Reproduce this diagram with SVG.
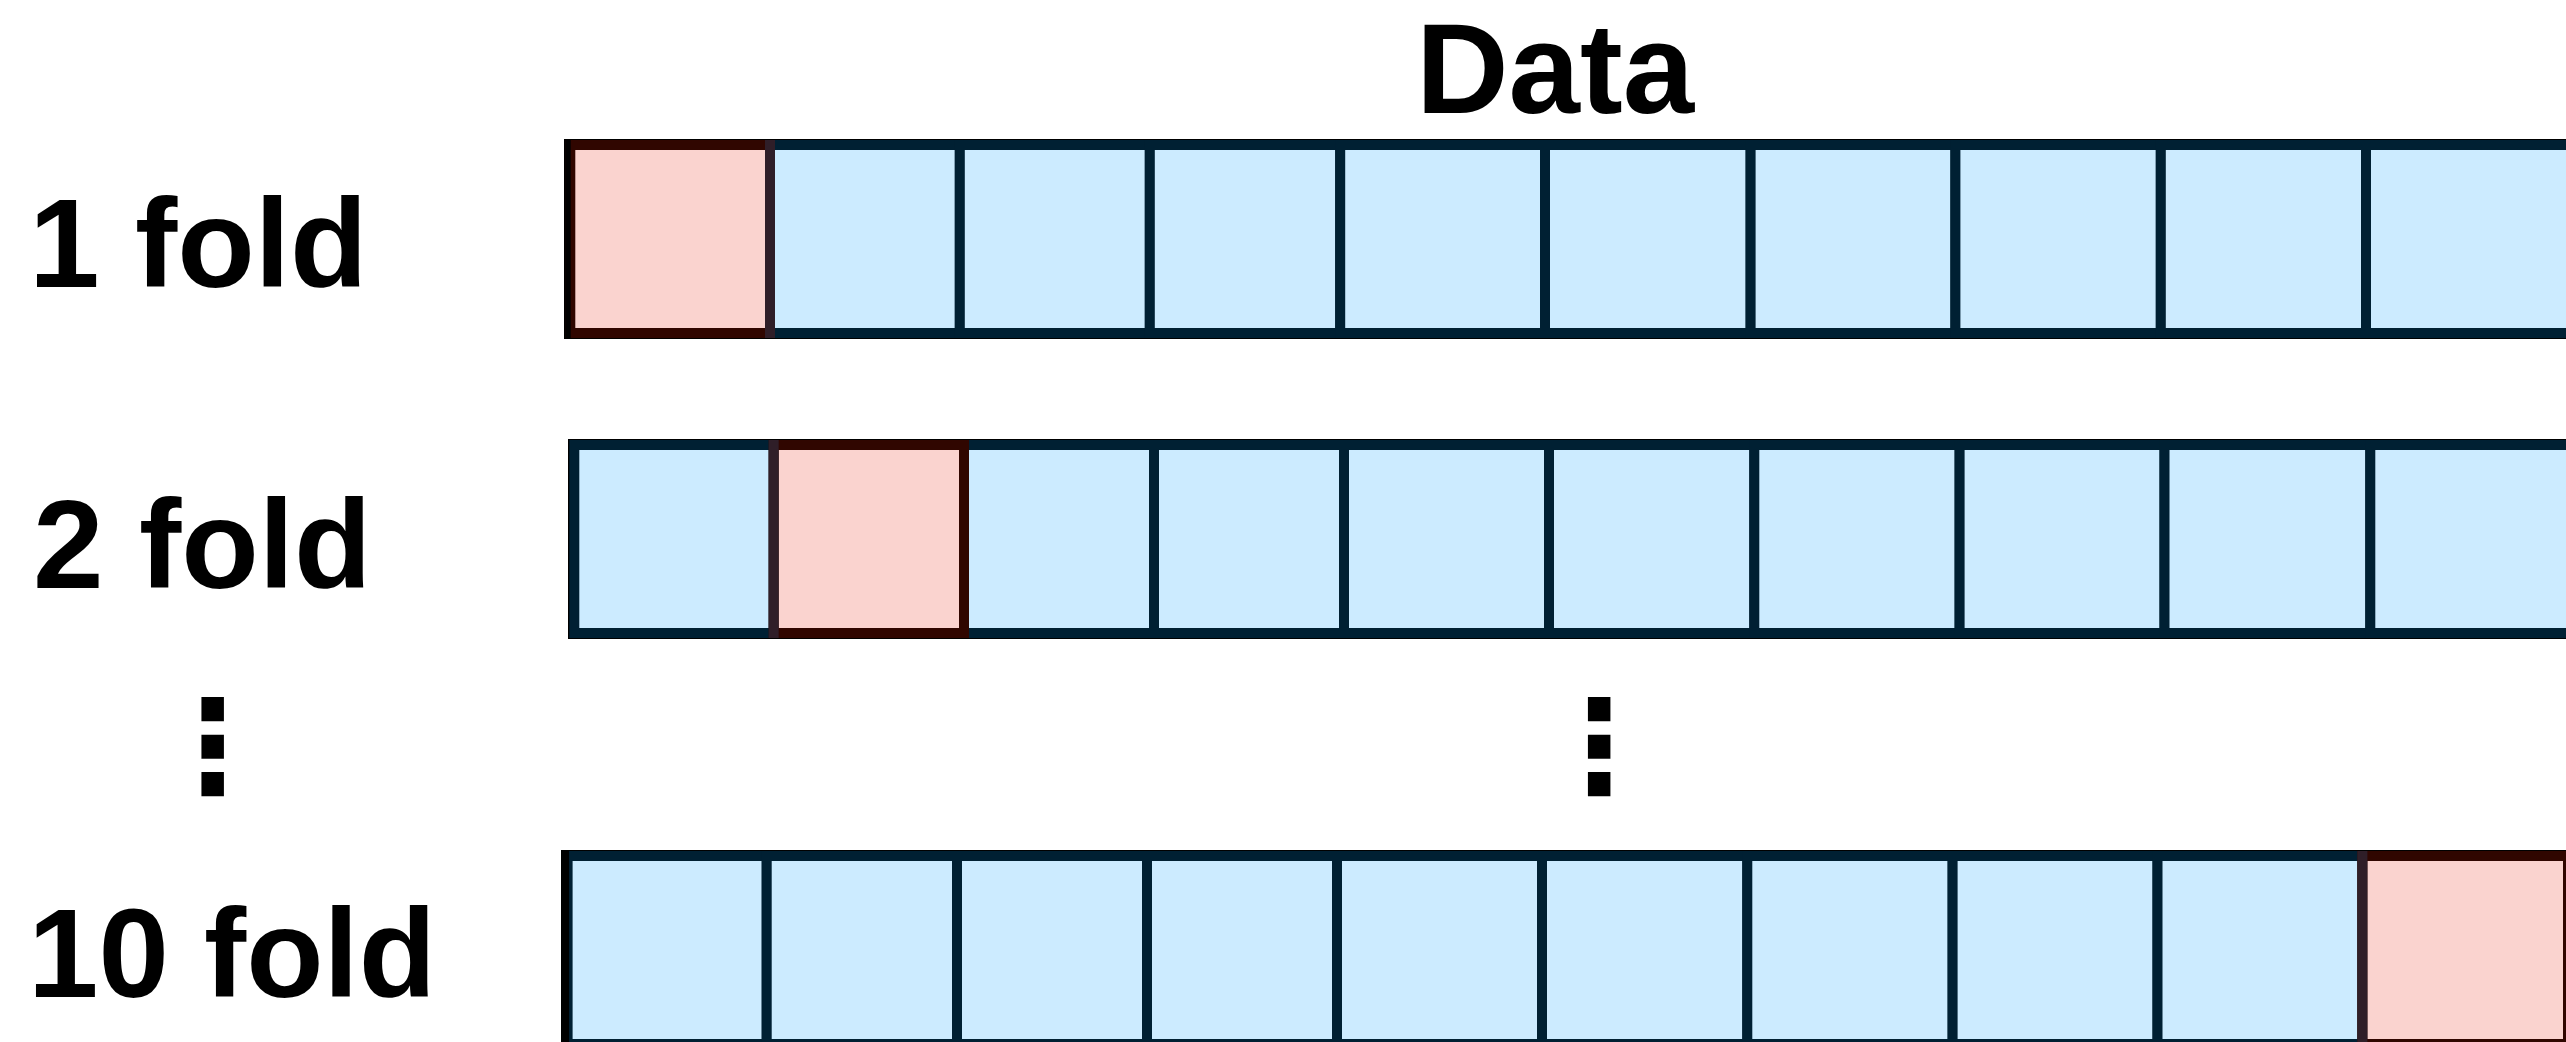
<svg xmlns="http://www.w3.org/2000/svg" width="2566" height="1042" viewBox="0 0 2566 1042">
<style>
.lbl{font-family:"Liberation Sans",Arial,sans-serif;font-weight:bold;fill:#000}
.b{fill:#CCEBFF;stroke:#002033;stroke-width:10}
.p{fill:#FAD3CF;stroke:#300600;stroke-width:10}
.sh{stroke:#2F1E28;stroke-width:10}
.edge{fill:none;stroke:#000;stroke-width:2}
.dots{font-family:"DejaVu Sans",sans-serif;font-weight:bold;fill:#000}
</style>
<rect width="2566" height="1042" fill="#fff"/>
<text class="lbl" x="1416" y="113" font-size="128" textLength="278" lengthAdjust="spacingAndGlyphs">Data</text>
<text class="lbl" x="29" y="287" font-size="127">1 fold</text>
<text class="lbl" x="33" y="588" font-size="127">2 fold</text>
<text class="lbl" x="28" y="997" font-size="127" textLength="408" lengthAdjust="spacingAndGlyphs">10 fold</text>
<g id="fold1">
<rect class="edge" x="565" y="140" width="2020" height="198"/>
<rect class="b" x="770" y="145" width="189.8" height="188"/>
<rect class="b" x="959.8" y="145" width="190" height="188"/>
<rect class="b" x="1149.8" y="145" width="190.4" height="188"/>
<rect class="b" x="1340.2" y="145" width="204.8" height="188"/>
<rect class="b" x="1545" y="145" width="205.6" height="188"/>
<rect class="b" x="1750.6" y="145" width="204.8" height="188"/>
<rect class="b" x="1955.4" y="145" width="205.4" height="188"/>
<rect class="b" x="2160.8" y="145" width="205.2" height="188"/>
<rect class="b" x="2366" y="145" width="205" height="188"/>
<rect class="p" x="570.3" y="145" width="199.7" height="188"/>
<line class="sh" x1="770" y1="140" x2="770" y2="338"/>
<line x1="568" y1="140" x2="568" y2="338" stroke="#000" stroke-width="5.4"/>
</g>
<g id="fold2">
<rect class="edge" x="569" y="440" width="2020" height="198"/>
<rect class="b" x="574.3" y="445" width="199.4" height="188"/>
<rect class="b" x="964" y="445" width="190" height="188"/>
<rect class="b" x="1154" y="445" width="190" height="188"/>
<rect class="b" x="1344" y="445" width="205" height="188"/>
<rect class="b" x="1549" y="445" width="205.3" height="188"/>
<rect class="b" x="1754.3" y="445" width="205.3" height="188"/>
<rect class="b" x="1959.6" y="445" width="204.9" height="188"/>
<rect class="b" x="2164.5" y="445" width="205.8" height="188"/>
<rect class="b" x="2370.3" y="445" width="204.7" height="188"/>
<rect class="p" x="773.7" y="445" width="190.3" height="188"/>
<line class="sh" x1="773.7" y1="440" x2="773.7" y2="638"/>
</g>
<g id="dots">
<text class="dots" x="212.5" y="791" font-size="128" text-anchor="middle">⋮</text>
<text class="dots" x="1599" y="791" font-size="128" text-anchor="middle">⋮</text>
</g>
<g id="fold10">
<rect class="edge" x="562" y="851" width="2020" height="198"/>
<rect class="b" x="567.6" y="856" width="199.1" height="188"/>
<rect class="b" x="766.7" y="856" width="190.3" height="188"/>
<rect class="b" x="957" y="856" width="190" height="188"/>
<rect class="b" x="1147" y="856" width="190" height="188"/>
<rect class="b" x="1337" y="856" width="205" height="188"/>
<rect class="b" x="1542" y="856" width="205.3" height="188"/>
<rect class="b" x="1747.3" y="856" width="205.3" height="188"/>
<rect class="b" x="1952.6" y="856" width="204.9" height="188"/>
<rect class="b" x="2157.5" y="856" width="204.9" height="188"/>
<rect class="p" x="2362.4" y="856" width="205.6" height="188"/>
<line class="sh" x1="2362.4" y1="851" x2="2362.4" y2="1042"/>
<line x1="565.6" y1="851" x2="565.6" y2="1042" stroke="#000" stroke-width="7"/>
</g>
<g id="connectors"/>
</svg>
